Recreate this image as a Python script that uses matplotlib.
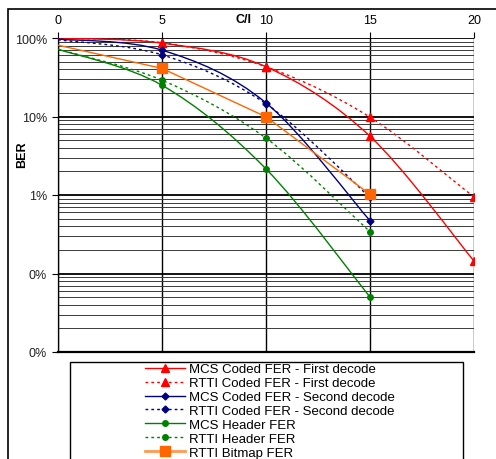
import matplotlib
matplotlib.use('Agg')
import matplotlib.pyplot as plt
import numpy as np
from matplotlib.path import Path
from matplotlib.patches import PathPatch, Rectangle
from matplotlib.lines import Line2D
from matplotlib.ticker import FixedLocator, FuncFormatter, LogLocator, NullFormatter

plt.rcParams['font.family'] = ['Liberation Sans', 'DejaVu Sans']

ci = [0, 5, 10, 15, 20]
ci_short = [0, 5, 10, 15]

mcs_first = [1.0, 0.86, 0.43, 0.056, 0.00144]
rtti_first = [1.0, 0.87, 0.43, 0.098, 0.0094]
mcs_second = [0.97, 0.70, 0.149, 0.0047]
rtti_second = [0.95, 0.61, 0.145, 0.0093]
mcs_header = [0.72, 0.25, 0.0215, 0.0005]
rtti_header = [0.72, 0.29, 0.053, 0.0034]
rtti_bitmap = [0.81, 0.41, 0.099, 0.0102]

labels = ['MCS Coded FER - First decode', 'RTTI Coded FER - First decode',
          'MCS Coded FER - Second decode', 'RTTI Coded FER - Second decode',
          'MCS Header FER', 'RTTI Header FER', 'RTTI Bitmap FER']

red = '#FF0000'
navy = '#000080'
green = '#008000'
orange = '#FF6600'
dots = (0, (2, 2.2))

series = [
    (ci, mcs_first, red, '-', '^', 5.5, True),
    (ci, rtti_first, red, dots, '^', 5.5, True),
    (ci_short, mcs_second, navy, '-', 'D', 3.5, True),
    (ci_short, rtti_second, navy, dots, 'D', 3.5, True),
    (ci_short, mcs_header, green, '-', 'o', 4, True),
    (ci_short, rtti_header, green, dots, 'o', 4, True),
    (ci_short, rtti_bitmap, orange, '-', 's', 6.5, False),
]


def smooth_path(x, y):
    # excel-like smoothed line, bezier in (x, log y) space
    pts = np.column_stack([np.array(x, float), np.log10(y)])
    n = len(pts)
    verts = [pts[0]]
    codes = [Path.MOVETO]
    for i in range(n - 1):
        p0 = pts[max(i - 1, 0)]
        p1 = pts[i]
        p2 = pts[i + 1]
        p3 = pts[min(i + 2, n - 1)]
        verts += [p1 + (p2 - p0) / 6, p2 - (p3 - p1) / 6, p2]
        codes += [Path.CURVE4] * 3
    verts = np.array(verts)
    verts[:, 1] = 10 ** verts[:, 1]
    return Path(verts, codes)


fig = plt.figure(figsize=(4.96, 4.60), dpi=100)
ax = fig.add_axes([58 / 496, 1 - 353 / 460, (474 - 58) / 496, (353 - 39) / 460])
ax.set_yscale('log')
ax.set_xlim(0, 20)
ax.set_ylim(1e-4, 1)

ax.yaxis.set_major_locator(FixedLocator([1e-4, 1e-3, 1e-2, 1e-1, 1]))
ax.yaxis.set_major_formatter(FuncFormatter(lambda v, p: '{:.0%}'.format(v)))
ax.yaxis.set_minor_locator(LogLocator(base=10, subs=np.arange(2, 10)))
ax.yaxis.set_minor_formatter(NullFormatter())
ax.tick_params(axis='y', which='minor', left=False)
ax.tick_params(axis='y', which='major', direction='out', length=4, width=0.8, pad=4, labelsize=9)
ax.yaxis.set_tick_params(labelcolor='#222222')

ax.set_xticks(ci)
ax.xaxis.tick_top()
ax.tick_params(axis='x', direction='out', length=4, width=0.8, pad=5, labelsize=9)

ax.grid(True, which='major', axis='y', color='black', lw=1.3)
ax.grid(True, which='minor', axis='y', color='#3a3a3a', lw=0.7)
ax.grid(True, which='major', axis='x', color='black', lw=1.0)
ax.set_axisbelow(True)

for side in ['top', 'right']:
    ax.spines[side].set_visible(False)
ax.spines['left'].set_linewidth(0.9)
ax.spines['bottom'].set_linewidth(1.6)

handles = []
for (x, y, c, ls, m, ms, smooth), lab in zip(series, labels):
    if smooth:
        ax.add_patch(PathPatch(smooth_path(x, y), fill=False, edgecolor=c, lw=1.0, linestyle=ls, zorder=3))
    else:
        ax.plot(x, y, color=c, lw=1.0, linestyle=ls, zorder=3)
    ax.plot(x[1:], y[1:], linestyle='none', marker=m, markersize=ms, color=c, zorder=4)
    lw = 2.0 if m == 's' else 1.0
    lc = '#FF9955' if m == 's' else c
    handles.append(Line2D([], [], color=lc, lw=lw, linestyle=ls, marker=m, markersize=ms,
                          markerfacecolor=c, markeredgecolor=c))

fig.text(243 / 496, 1 - 20 / 460, 'C/I', fontsize=9, fontweight='bold', ha='center', va='center')
fig.text(22 / 496, 1 - 155 / 460, 'BER', fontsize=9, fontweight='bold', ha='center', va='center', rotation=90)

# outer chart border and legend box (both run past the cropped edge)
fig.patches.append(Rectangle((8 / 496, -0.1), 1.2, 1 - 10 / 460 + 0.1, transform=fig.transFigure,
                             fill=False, edgecolor='black', lw=1.2))
fig.patches.append(Rectangle((70 / 496, -0.1), (463 - 70) / 496, 1 - 363 / 460 + 0.1,
                             transform=fig.transFigure, fill=False, edgecolor='black', lw=1.0))

fig.legend(handles, labels, loc='upper left', bbox_to_anchor=(145 / 496, 1 - 364 / 460),
           frameon=False, fontsize=9.5, handlelength=3.0, handletextpad=0.35,
           labelspacing=0.13, borderpad=0, borderaxespad=0)

fig.savefig('out.png', dpi=100)
